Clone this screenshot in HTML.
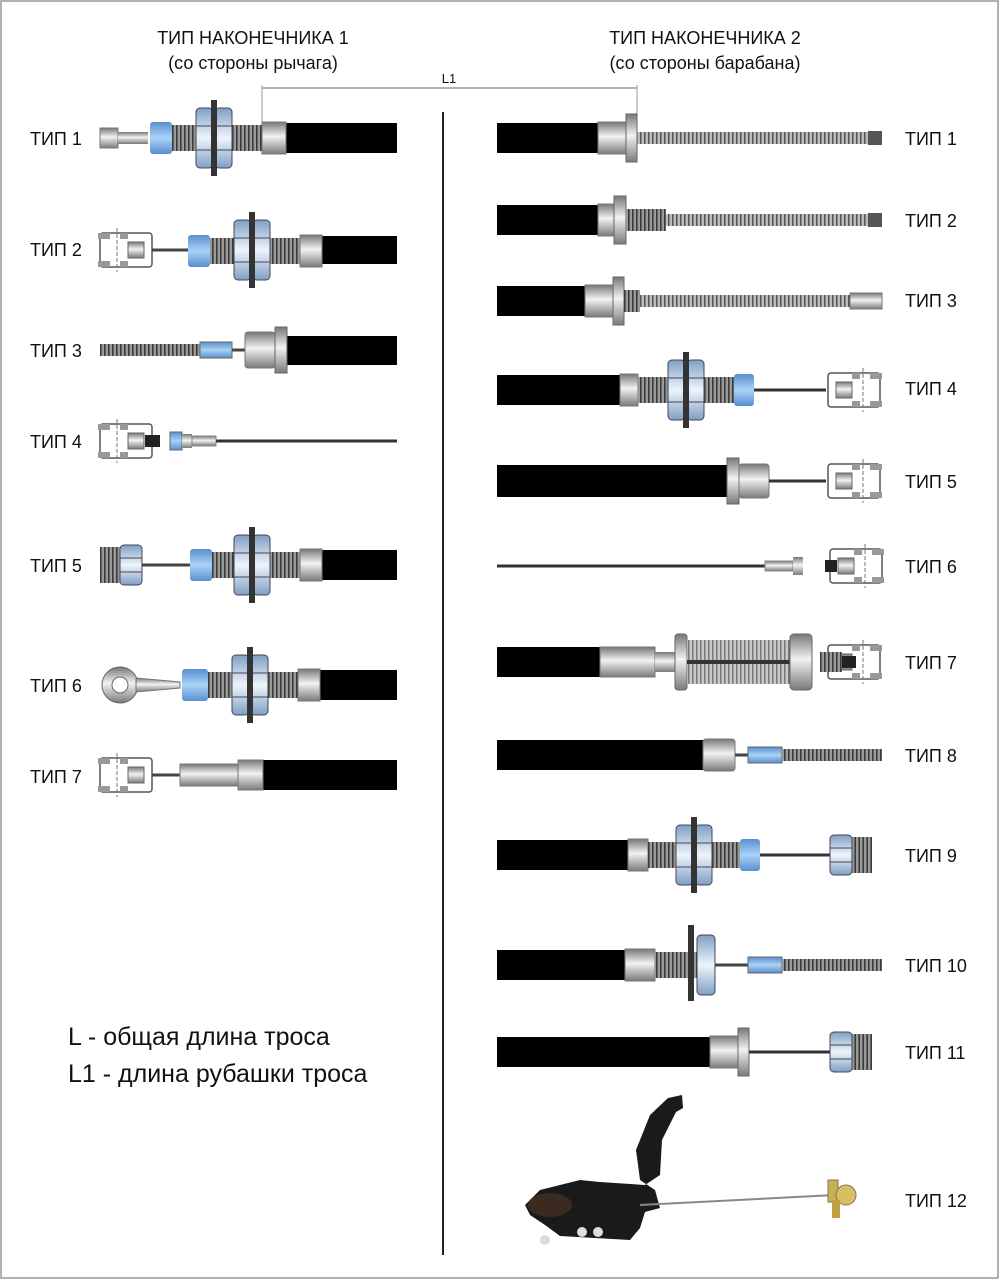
<!DOCTYPE html>
<html><head><meta charset="utf-8"><style>
html,body{margin:0;padding:0;background:#fff}
svg{display:block}
text{font-family:"Liberation Sans",sans-serif;fill:#111}
</style></head><body>
<svg width="1000" height="1280" viewBox="0 0 1000 1280" xmlns="http://www.w3.org/2000/svg">
<defs>
<linearGradient id="m" x1="0" y1="0" x2="0" y2="1"><stop offset="0" stop-color="#777"/><stop offset=".45" stop-color="#f2f2f2"/><stop offset="1" stop-color="#7a7a7a"/></linearGradient>
<linearGradient id="b" x1="0" y1="0" x2="0" y2="1"><stop offset="0" stop-color="#5a8fd0"/><stop offset=".5" stop-color="#a9d2f5"/><stop offset="1" stop-color="#5a8fd0"/></linearGradient>
<linearGradient id="n" x1="0" y1="0" x2="0" y2="1"><stop offset="0" stop-color="#7f9fc4"/><stop offset=".5" stop-color="#eef4fa"/><stop offset="1" stop-color="#7f9fc4"/></linearGradient>
<pattern id="th" width="4" height="10" patternUnits="userSpaceOnUse"><rect width="4" height="10" fill="#9a9a9a"/><rect width="1.6" height="10" fill="#3a3a3a"/></pattern>
<pattern id="sp" width="4" height="10" patternUnits="userSpaceOnUse"><rect width="4" height="10" fill="#bbb"/><rect width="1.5" height="10" fill="#555"/></pattern>
<g id="nuts"><rect x="0" y="-30" width="17" height="60" rx="4" fill="url(#n)" stroke="#445" stroke-width="1"/><rect x="19" y="-30" width="17" height="60" rx="4" fill="url(#n)" stroke="#445" stroke-width="1"/><line x1="0" y1="-12" x2="36" y2="-12" stroke="#445"/><line x1="0" y1="12" x2="36" y2="12" stroke="#445"/><rect x="15" y="-38" width="6" height="76" fill="#333"/></g>
<g id="fork"><rect x="0" y="-17" width="52" height="34" rx="3" fill="#fff" stroke="#555" stroke-width="1.5"/><rect x="-2" y="-17" width="12" height="6" fill="#999"/><rect x="-2" y="11" width="12" height="6" fill="#999"/><rect x="20" y="-17" width="8" height="6" fill="#999"/><rect x="20" y="11" width="8" height="6" fill="#999"/><rect x="28" y="-8" width="16" height="16" fill="url(#m)" stroke="#666"/><line x1="17" y1="-22" x2="17" y2="22" stroke="#777" stroke-dasharray="4,2"/></g>
<g id="hexend"><rect x="0" y="-18" width="20" height="36" fill="url(#th)"/><rect x="20" y="-20" width="22" height="40" rx="4" fill="url(#n)" stroke="#445"/><line x1="20" y1="-7" x2="42" y2="-7" stroke="#445"/><line x1="20" y1="7" x2="42" y2="7" stroke="#445"/></g>
</defs>
<rect x="1" y="1" width="997" height="1277" fill="#fff" stroke="#999" stroke-width="1.5"/>
<line x1="443" y1="112" x2="443" y2="1255" stroke="#222" stroke-width="2"/>
<text x="253" y="44" font-size="18" text-anchor="middle">ТИП НАКОНЕЧНИКА 1</text>
<text x="253" y="69" font-size="18" text-anchor="middle">(со стороны рычага)</text>
<text x="705" y="44" font-size="18" text-anchor="middle">ТИП НАКОНЕЧНИКА 2</text>
<text x="705" y="69" font-size="18" text-anchor="middle">(со стороны барабана)</text>
<line x1="262" y1="88" x2="637" y2="88" stroke="#666"/><line x1="262" y1="85" x2="262" y2="122" stroke="#999"/><line x1="637" y1="85" x2="637" y2="122" stroke="#999"/>
<text x="449" y="83" font-size="13" text-anchor="middle">L1</text>
<g font-size="18">
<text x="30" y="145">ТИП 1</text><text x="30" y="256">ТИП 2</text><text x="30" y="357">ТИП 3</text><text x="30" y="448">ТИП 4</text><text x="30" y="572">ТИП 5</text><text x="30" y="692">ТИП 6</text><text x="30" y="783">ТИП 7</text>
<text x="905" y="145">ТИП 1</text><text x="905" y="227">ТИП 2</text><text x="905" y="307">ТИП 3</text><text x="905" y="395">ТИП 4</text><text x="905" y="488">ТИП 5</text><text x="905" y="573">ТИП 6</text><text x="905" y="669">ТИП 7</text><text x="905" y="762">ТИП 8</text><text x="905" y="862">ТИП 9</text><text x="905" y="972">ТИП 10</text><text x="905" y="1059">ТИП 11</text><text x="905" y="1207">ТИП 12</text>
</g>
<text x="68" y="1045" font-size="25">L - общая длина троса</text>
<text x="68" y="1082" font-size="25">L1 - длина рубашки троса</text>

<!-- LEFT -->
<!-- T1 -->
<rect x="285" y="123" width="112" height="30" fill="#000"/>
<rect x="100" y="128" width="18" height="20" fill="url(#m)" stroke="#777"/><rect x="118" y="132" width="30" height="12" fill="url(#m)"/>
<rect x="150" y="122" width="22" height="32" rx="3" fill="url(#b)"/><rect x="172" y="125" width="90" height="26" fill="url(#th)"/>
<use href="#nuts" x="196" y="138"/>
<rect x="262" y="122" width="24" height="32" fill="url(#m)" stroke="#777"/>
<!-- T2 -->
<rect x="322" y="236" width="75" height="28" fill="#000"/>
<use href="#fork" x="100" y="250"/><line x1="152" y1="250" x2="188" y2="250" stroke="#444" stroke-width="3"/>
<rect x="188" y="235" width="22" height="32" rx="3" fill="url(#b)"/><rect x="210" y="238" width="90" height="26" fill="url(#th)"/>
<use href="#nuts" x="234" y="250"/><rect x="300" y="235" width="22" height="32" fill="url(#m)" stroke="#777"/>
<!-- T3 -->
<rect x="287" y="336" width="110" height="29" fill="#000"/>
<rect x="100" y="344" width="100" height="12" fill="url(#th)"/><rect x="200" y="342" width="32" height="16" fill="url(#b)" stroke="#666"/><line x1="232" y1="350" x2="245" y2="350" stroke="#444" stroke-width="3"/>
<rect x="245" y="332" width="30" height="36" rx="3" fill="url(#m)" stroke="#777"/><rect x="275" y="327" width="12" height="46" fill="url(#m)" stroke="#666"/>
<!-- T4 -->
<use href="#fork" x="100" y="441"/><rect x="145" y="435" width="15" height="12" fill="#222"/><rect x="170" y="432" width="12" height="18" fill="url(#b)" stroke="#666"/>
<rect x="182" y="434" width="10" height="14" fill="url(#m)"/><rect x="192" y="436" width="24" height="10" fill="url(#m)" stroke="#888"/><line x1="216" y1="441" x2="397" y2="441" stroke="#333" stroke-width="3"/>
<!-- T5 -->
<rect x="322" y="550" width="75" height="30" fill="#000"/>
<use href="#hexend" x="100" y="565"/><line x1="142" y1="565" x2="190" y2="565" stroke="#444" stroke-width="3"/>
<rect x="190" y="549" width="22" height="32" rx="3" fill="url(#b)"/><rect x="212" y="552" width="90" height="26" fill="url(#th)"/>
<use href="#nuts" x="234" y="565"/><rect x="300" y="549" width="22" height="32" fill="url(#m)" stroke="#777"/>
<!-- T6 -->
<rect x="320" y="670" width="77" height="30" fill="#000"/>
<circle cx="120" cy="685" r="18" fill="url(#m)" stroke="#666"/><circle cx="120" cy="685" r="8" fill="#fff" stroke="#666"/>
<path d="M136 678 L180 682 L180 688 L136 692Z" fill="url(#m)" stroke="#777"/>
<rect x="182" y="669" width="26" height="32" rx="3" fill="url(#b)"/><rect x="208" y="672" width="90" height="26" fill="url(#th)"/>
<use href="#nuts" x="232" y="685"/><rect x="298" y="669" width="22" height="32" fill="url(#m)" stroke="#777"/>
<!-- T7 -->
<rect x="263" y="760" width="134" height="30" fill="#000"/>
<use href="#fork" x="100" y="775"/><line x1="152" y1="775" x2="180" y2="775" stroke="#444" stroke-width="3"/>
<rect x="180" y="764" width="60" height="22" fill="url(#m)" stroke="#777"/><rect x="238" y="760" width="25" height="30" fill="url(#m)" stroke="#777"/>

<!-- RIGHT -->
<!-- T1 -->
<rect x="497" y="123" width="101" height="30" fill="#000"/><rect x="598" y="122" width="28" height="32" fill="url(#m)" stroke="#777"/><rect x="626" y="114" width="11" height="48" fill="url(#m)" stroke="#666"/>
<rect x="637" y="132" width="232" height="12" fill="url(#sp)"/><rect x="868" y="131" width="14" height="14" fill="#555"/>
<!-- T2 -->
<rect x="497" y="205" width="101" height="30" fill="#000"/><rect x="598" y="204" width="16" height="32" fill="url(#m)" stroke="#777"/><rect x="614" y="196" width="12" height="48" fill="url(#m)" stroke="#666"/>
<rect x="626" y="209" width="40" height="22" fill="url(#th)"/><rect x="666" y="214" width="203" height="12" fill="url(#sp)"/><rect x="868" y="213" width="14" height="14" fill="#555"/>
<!-- T3 -->
<rect x="497" y="286" width="88" height="30" fill="#000"/><rect x="585" y="285" width="28" height="32" fill="url(#m)" stroke="#777"/><rect x="613" y="277" width="11" height="48" fill="url(#m)" stroke="#666"/>
<rect x="624" y="290" width="16" height="22" fill="url(#th)"/><rect x="640" y="295" width="210" height="12" fill="url(#sp)"/><rect x="850" y="293" width="32" height="16" fill="url(#m)" stroke="#777"/>
<!-- T4 -->
<rect x="497" y="375" width="123" height="30" fill="#000"/><rect x="620" y="374" width="18" height="32" fill="url(#m)" stroke="#777"/><rect x="638" y="377" width="96" height="26" fill="url(#th)"/>
<use href="#nuts" x="668" y="390"/><rect x="734" y="374" width="20" height="32" rx="3" fill="url(#b)"/><line x1="754" y1="390" x2="826" y2="390" stroke="#333" stroke-width="3"/>
<g transform="translate(880,390) scale(-1,1)"><use href="#fork" x="0" y="0"/></g>
<!-- T5 -->
<rect x="497" y="465" width="230" height="32" fill="#000"/><rect x="727" y="458" width="12" height="46" fill="url(#m)" stroke="#666"/><rect x="739" y="464" width="30" height="34" rx="3" fill="url(#m)" stroke="#777"/>
<line x1="769" y1="481" x2="826" y2="481" stroke="#333" stroke-width="3"/><g transform="translate(880,481) scale(-1,1)"><use href="#fork" x="0" y="0"/></g>
<!-- T6 -->
<line x1="497" y1="566" x2="765" y2="566" stroke="#333" stroke-width="3"/><rect x="765" y="561" width="28" height="10" fill="url(#m)" stroke="#888"/><rect x="793" y="557" width="10" height="18" fill="url(#m)"/>
<g transform="translate(882,566) scale(-1,1)"><use href="#fork" x="0" y="0"/></g><rect x="825" y="560" width="12" height="12" fill="#222"/>
<!-- T7 -->
<rect x="497" y="647" width="103" height="30" fill="#000"/><rect x="600" y="647" width="55" height="30" fill="url(#m)" stroke="#777"/><rect x="655" y="652" width="20" height="20" fill="url(#m)"/>
<rect x="675" y="634" width="12" height="56" rx="3" fill="url(#m)" stroke="#666"/><rect x="687" y="640" width="103" height="44" fill="url(#sp)" opacity=".8"/><line x1="687" y1="662" x2="790" y2="662" stroke="#333" stroke-width="4"/>
<rect x="790" y="634" width="22" height="56" rx="4" fill="url(#m)" stroke="#666"/><g transform="translate(880,662) scale(-1,1)"><use href="#fork" x="0" y="0"/></g>
<rect x="820" y="652" width="22" height="20" fill="url(#th)"/><rect x="842" y="656" width="14" height="12" fill="#222"/>
<!-- T8 -->
<rect x="497" y="740" width="206" height="30" fill="#000"/><rect x="703" y="739" width="32" height="32" rx="3" fill="url(#m)" stroke="#777"/><line x1="735" y1="755" x2="748" y2="755" stroke="#444" stroke-width="3"/>
<rect x="748" y="747" width="34" height="16" fill="url(#b)" stroke="#666"/><rect x="782" y="749" width="100" height="12" fill="url(#th)"/>
<!-- T9 -->
<rect x="497" y="840" width="131" height="30" fill="#000"/><rect x="628" y="839" width="20" height="32" fill="url(#m)" stroke="#777"/><rect x="648" y="842" width="92" height="26" fill="url(#th)"/>
<use href="#nuts" x="676" y="855"/><rect x="740" y="839" width="20" height="32" rx="3" fill="url(#b)"/><line x1="760" y1="855" x2="830" y2="855" stroke="#333" stroke-width="3"/>
<g transform="translate(872,855) scale(-1,1)"><use href="#hexend" x="0" y="0"/></g>
<!-- T10 -->
<rect x="497" y="950" width="128" height="30" fill="#000"/><rect x="625" y="949" width="30" height="32" fill="url(#m)" stroke="#777"/><rect x="655" y="952" width="60" height="26" fill="url(#th)"/>
<rect x="697" y="935" width="18" height="60" rx="4" fill="url(#n)" stroke="#445"/><rect x="688" y="925" width="6" height="76" fill="#333"/>
<line x1="715" y1="965" x2="748" y2="965" stroke="#444" stroke-width="3"/><rect x="748" y="957" width="34" height="16" fill="url(#b)" stroke="#666"/><rect x="782" y="959" width="100" height="12" fill="url(#th)"/>
<!-- T11 -->
<rect x="497" y="1037" width="213" height="30" fill="#000"/><rect x="710" y="1036" width="28" height="32" fill="url(#m)" stroke="#777"/><rect x="738" y="1028" width="11" height="48" fill="url(#m)" stroke="#666"/>
<line x1="749" y1="1052" x2="830" y2="1052" stroke="#333" stroke-width="3"/><g transform="translate(872,1052) scale(-1,1)"><use href="#hexend" x="0" y="0"/></g>
<!-- T12 bracket -->
<path d="M668 1098 L682 1095 L683 1108 L676 1112 L662 1140 L660 1175 L645 1185 L600 1182 L580 1180 L560 1185 L540 1190 L525 1205 L530 1215 L545 1225 L560 1236 L630 1240 L640 1228 L645 1212 L660 1208 L655 1190 L640 1180 L636 1150 L650 1115 Z" fill="#1a1a1a"/>
<ellipse cx="550" cy="1205" rx="22" ry="12" fill="#3a2a20"/><circle cx="582" cy="1232" r="5" fill="#ddd"/><circle cx="598" cy="1232" r="5" fill="#ddd"/><circle cx="545" cy="1240" r="5" fill="#ddd"/>
<line x1="640" y1="1205" x2="835" y2="1195" stroke="#888" stroke-width="2"/>
<rect x="828" y="1180" width="10" height="22" fill="#c8b050" stroke="#776"/><circle cx="846" cy="1195" r="10" fill="#d7c060" stroke="#776"/><rect x="832" y="1200" width="8" height="18" fill="#c0a040"/>
</svg>
</body></html>
